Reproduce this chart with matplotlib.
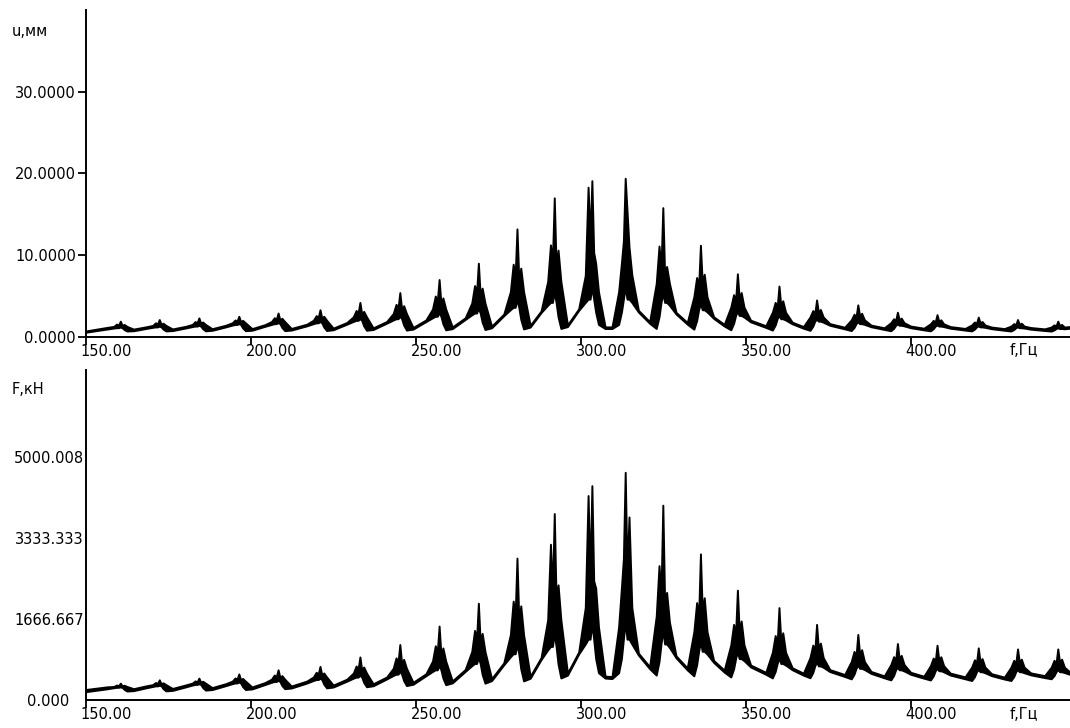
import matplotlib
matplotlib.use("Agg")
from matplotlib import pyplot as plt
from matplotlib.transforms import ScaledTranslation

# Частота, Гц (общая сетка для обоих графиков, точки)
freq = [
    150.0,
    156.5, 158.5, 159.35, 159.95, 160.5, 161.05, 161.65, 162.5, 164.5,
    168.3, 170.3, 171.15, 171.75, 172.3, 172.85, 173.45, 174.3, 176.3,
    180.3, 182.3, 183.15, 183.75, 184.3, 184.85, 185.45, 186.3, 188.3,
    192.4, 194.4, 195.25, 195.85, 196.4, 196.95, 197.55, 198.4, 200.4,
    204.3, 206.3, 207.15, 207.75, 208.3, 208.85, 209.45, 210.3, 212.3,
    217.0, 219.0, 219.85, 220.45, 221.0, 221.55, 222.15, 223.0, 225.0,
    229.1, 231.1, 231.95, 232.55, 233.1, 233.65, 234.25, 235.1, 237.1,
    241.2, 243.2, 244.05, 244.65, 245.2, 245.75, 246.35, 247.2, 249.2,
    253.1, 255.1, 255.95, 256.55, 257.1, 257.65, 258.25, 259.1, 261.1,
    265.0, 267.0, 267.85, 268.45, 269.0, 269.55, 270.15, 271.0, 273.0,
    276.7, 278.7, 279.55, 280.15, 280.7, 281.25, 281.85, 282.7, 284.7,
    288.0, 290.0, 290.85, 291.45, 292.0, 292.55, 293.15, 294.0, 296.0,
    299.4, 301.4, 302.25, 302.85, 303.4, 303.95, 304.55, 305.4, 307.4,
    309.5, 311.5, 312.35, 312.95, 313.5, 314.05, 314.65, 315.5, 317.5,
    320.9, 322.9, 323.75, 324.35, 324.9, 325.45, 326.05, 326.9, 328.9,
    332.3, 334.3, 335.15, 335.75, 336.3, 336.85, 337.45, 338.3, 340.3,
    343.5, 345.5, 346.35, 346.95, 347.5, 348.05, 348.65, 349.5, 351.5,
    356.1, 358.1, 358.95, 359.55, 360.1, 360.65, 361.25, 362.1, 364.1,
    367.5, 369.5, 370.35, 370.95, 371.5, 372.05, 372.65, 373.5, 375.5,
    380.0, 382.0, 382.85, 383.45, 384.0, 384.55, 385.15, 386.0, 388.0,
    392.0, 394.0, 394.85, 395.45, 396.0, 396.55, 397.15, 398.0, 400.0,
    404.0, 406.0, 406.85, 407.45, 408.0, 408.55, 409.15, 410.0, 412.0,
    416.5, 418.5, 419.35, 419.95, 420.5, 421.05, 421.65, 422.5, 424.5,
    428.4, 430.4, 431.25, 431.85, 432.4, 432.95, 433.55, 434.4, 436.4,
    440.6, 442.6, 443.45, 444.05, 444.6, 445.15, 445.75, 446.6, 448.5,
]

# Перемещение u, мм: нижняя и верхняя огибающие
u_low = [
    0.55,
    0.94, 1.06, 1.10, 1.10, 1.18, 1.10, 0.88, 0.70, 0.73,
    1.01, 1.15, 1.20, 1.20, 1.29, 1.20, 0.93, 0.71, 0.75,
    1.07, 1.24, 1.30, 1.30, 1.40, 1.30, 0.98, 0.72, 0.78,
    1.20, 1.42, 1.50, 1.50, 1.60, 1.50, 1.08, 0.74, 0.79,
    1.27, 1.50, 1.60, 1.60, 1.73, 1.60, 1.13, 0.75, 0.81,
    1.33, 1.60, 1.70, 1.70, 1.86, 1.70, 1.18, 0.76, 0.85,
    1.53, 1.87, 2.00, 2.00, 2.22, 2.00, 1.33, 0.79, 0.88,
    1.66, 2.05, 2.20, 2.20, 2.52, 2.20, 1.43, 0.81, 0.93,
    1.85, 2.32, 2.50, 2.50, 2.95, 2.50, 1.58, 0.84, 0.99,
    2.11, 2.68, 2.90, 2.90, 3.51, 2.90, 1.78, 0.88, 1.09,
    2.57, 3.31, 3.60, 3.60, 4.56, 3.60, 2.13, 0.95, 1.18,
    2.96, 3.85, 4.20, 4.20, 5.48, 4.20, 2.43, 1.01, 1.24,
    3.22, 4.20, 4.60, 4.60, 6.05, 4.60, 3.00, 1.50, 1.00,
    1.00, 1.50, 3.00, 4.60, 6.10, 4.60, 4.60, 4.20, 3.02,
    1.64, 1.01, 2.43, 4.20, 5.36, 4.20, 4.20, 3.85, 2.78,
    1.54, 0.92, 1.98, 3.30, 4.09, 3.30, 3.30, 3.04, 2.24,
    1.31, 0.85, 1.63, 2.60, 3.11, 2.60, 2.60, 2.41, 1.82,
    1.14, 0.81, 1.43, 2.20, 2.60, 2.20, 2.20, 2.05, 1.58,
    1.04, 0.78, 1.28, 1.90, 2.16, 1.90, 1.90, 1.78, 1.40,
    0.96, 0.75, 1.13, 1.60, 1.83, 1.60, 1.60, 1.51, 1.22,
    0.89, 0.73, 1.03, 1.40, 1.56, 1.40, 1.40, 1.33, 1.10,
    0.84, 0.72, 0.98, 1.30, 1.44, 1.30, 1.30, 1.24, 1.04,
    0.81, 0.71, 0.93, 1.20, 1.32, 1.20, 1.20, 1.15, 0.98,
    0.79, 0.70, 0.88, 1.10, 1.20, 1.10, 1.10, 1.06, 0.92,
    0.76, 0.69, 0.83, 1.00, 1.09, 1.00, 1.00, 0.97, 1.05,
]
u_high = [
    0.70,
    1.14, 1.26, 1.54, 1.42, 1.90, 1.38, 1.50, 1.26, 0.93,
    1.21, 1.38, 1.70, 1.56, 2.10, 1.52, 1.65, 1.38, 0.95,
    1.27, 1.50, 1.85, 1.70, 2.30, 1.65, 1.80, 1.50, 0.98,
    1.40, 1.70, 2.05, 1.90, 2.50, 1.85, 2.00, 1.70, 0.99,
    1.47, 1.86, 2.32, 2.12, 2.90, 2.06, 2.25, 1.86, 1.01,
    1.53, 2.02, 2.58, 2.34, 3.30, 2.26, 2.50, 2.02, 1.05,
    1.73, 2.44, 3.21, 2.88, 4.20, 2.77, 3.10, 2.44, 1.08,
    1.86, 2.84, 3.96, 3.48, 5.40, 3.32, 3.80, 2.84, 1.13,
    2.05, 3.40, 4.98, 4.30, 7.00, 4.08, 4.75, 3.40, 1.19,
    2.31, 4.12, 6.26, 5.34, 9.00, 5.04, 5.95, 4.12, 1.29,
    2.77, 5.52, 8.88, 7.44, 13.20, 6.96, 8.40, 5.52, 1.38,
    3.16, 6.76, 11.24, 9.32, 17.00, 8.68, 10.60, 6.76, 1.44,
    3.42, 7.50, 18.30, 12.00, 19.10, 10.30, 9.00, 5.50, 1.20,
    1.20, 5.50, 9.00, 11.70, 19.40, 15.40, 11.00, 7.60, 3.22,
    1.84, 6.52, 11.10, 8.26, 15.80, 7.50, 8.60, 6.52, 2.98,
    1.74, 4.88, 7.25, 6.07, 11.20, 6.46, 7.65, 4.88, 2.44,
    1.51, 3.62, 5.15, 4.39, 7.70, 4.64, 5.41, 3.62, 2.02,
    1.34, 3.00, 4.20, 3.60, 6.20, 3.80, 4.40, 3.00, 1.78,
    1.24, 2.42, 3.20, 2.81, 4.50, 2.94, 3.33, 2.42, 1.60,
    1.16, 2.06, 2.75, 2.41, 3.90, 2.52, 2.87, 2.06, 1.42,
    1.09, 1.72, 2.20, 1.96, 3.00, 2.04, 2.28, 1.72, 1.30,
    1.04, 1.58, 2.00, 1.79, 2.70, 1.86, 2.07, 1.58, 1.24,
    1.01, 1.44, 1.80, 1.62, 2.40, 1.68, 1.86, 1.44, 1.18,
    0.99, 1.30, 1.60, 1.45, 2.10, 1.50, 1.65, 1.30, 1.12,
    0.96, 1.18, 1.45, 1.32, 1.90, 1.36, 1.50, 1.18, 1.25,
]

# Сила F, кН: нижняя и верхняя огибающие
F_low = [
    170,
    230, 252, 260, 260, 268, 260, 218, 184, 192,
    250, 278, 290, 290, 302, 290, 232, 187, 197,
    269, 307, 320, 320, 333, 320, 255, 203, 214,
    294, 335, 350, 350, 369, 350, 275, 215, 227,
    317, 364, 380, 380, 404, 380, 298, 232, 246,
    348, 401, 420, 420, 447, 420, 325, 249, 266,
    386, 448, 470, 470, 511, 470, 360, 272, 292,
    432, 504, 530, 530, 591, 530, 400, 296, 323,
    498, 586, 620, 620, 710, 620, 450, 314, 351,
    586, 705, 750, 750, 874, 750, 525, 345, 398,
    723, 888, 950, 950, 1147, 950, 640, 392, 446,
    831, 1028, 1100, 1100, 1373, 1100, 740, 452, 511,
    946, 1150, 1250, 1250, 1565, 1250, 850, 560, 450,
    440, 560, 850, 1250, 1600, 1250, 1250, 1150, 922,
    643, 511, 795, 1150, 1435, 1150, 1150, 1079, 866,
    618, 496, 720, 1000, 1200, 1000, 1000, 944, 772,
    573, 472, 640, 850, 991, 850, 850, 808, 678,
    528, 453, 585, 750, 865, 750, 750, 717, 622,
    510, 457, 565, 700, 785, 700, 700, 673, 584,
    483, 434, 530, 650, 720, 650, 650, 626, 546,
    455, 413, 505, 620, 674, 620, 620, 597, 528,
    448, 411, 495, 600, 652, 600, 600, 579, 512,
    435, 400, 480, 580, 629, 580, 580, 560, 500,
    430, 400, 480, 580, 627, 580, 580, 560, 516,
    460, 436, 500, 580, 627, 580, 580, 564, 520,
]
F_high = [
    215,
    270, 277, 307, 294, 345, 290, 302, 277, 232,
    290, 315, 358, 340, 414, 333, 352, 315, 237,
    309, 346, 391, 372, 449, 365, 384, 346, 254,
    334, 387, 452, 424, 535, 415, 442, 387, 267,
    357, 428, 512, 476, 620, 464, 500, 428, 286,
    388, 474, 569, 528, 690, 515, 555, 474, 306,
    426, 553, 698, 636, 884, 615, 677, 553, 332,
    472, 652, 865, 774, 1139, 743, 835, 652, 363,
    538, 800, 1114, 979, 1518, 934, 1069, 800, 391,
    626, 997, 1430, 1245, 1987, 1183, 1369, 997, 438,
    763, 1343, 2031, 1736, 2915, 1638, 1933, 1343, 486,
    871, 1646, 3200, 2192, 3830, 2056, 2365, 1646, 551,
    986, 1900, 4200, 2500, 4403, 2450, 2300, 1500, 490,
    480, 1500, 2300, 2900, 4678, 2600, 3760, 1900, 962,
    683, 1720, 2760, 2150, 4002, 2000, 2210, 1600, 906,
    658, 1400, 2000, 1700, 3001, 1800, 2100, 1400, 812,
    613, 1131, 1553, 1342, 2256, 1412, 1623, 1131, 718,
    568, 980, 1324, 1152, 1898, 1209, 1381, 980, 662,
    550, 871, 1127, 999, 1553, 1041, 1169, 871, 624,
    523, 789, 998, 894, 1346, 928, 1033, 789, 586,
    495, 728, 890, 809, 1159, 836, 916, 728, 568,
    488, 705, 862, 783, 1124, 810, 888, 705, 552,
    475, 678, 825, 752, 1070, 776, 850, 678, 540,
    470, 674, 815, 744, 1049, 768, 838, 674, 556,
    500, 674, 815, 744, 1049, 768, 838, 674, 560,
]

x_ticks = [150, 200, 250, 300, 350, 400]
x_labels = ['150.00', '200.00', '250.00', '300.00', '350.00', '400.00']
u_ticks = [0, 10, 20, 30]
u_labels = ['0.0000', '10.0000', '20.0000', '30.0000']
F_ticks = [0, 1666.667, 3333.333, 5000.008]
F_labels = ['0.000', '1666.667', '3333.333', '5000.008']

plt.rcParams['font.family'] = 'DejaVu Sans'
plt.rcParams['font.size'] = 10.5

fig = plt.figure(figsize=(10.7, 7.28), dpi=100)
ax_u = fig.add_axes([0.0801, 0.5375, 0.9199, 0.4488])
ax_F = fig.add_axes([0.0801, 0.0385, 0.9199, 0.4533])

shift = ScaledTranslation(-0.05, 0, fig.dpi_scale_trans)


def style_axis(ax, ymax, yticks, ylabels):
    ax.set_xlim(150, 448.3)
    ax.set_ylim(0, ymax)
    for side in ['top', 'right']:
        ax.spines[side].set_visible(False)
    for side in ['left', 'bottom']:
        ax.spines[side].set_linewidth(1.4)
    ax.set_xticks(x_ticks)
    ax.set_xticklabels(x_labels)
    ax.tick_params(axis='x', direction='out', length=6, width=1.3, pad=-1,
                   labelsize=10.5)
    for lab in ax.get_xticklabels():
        lab.set_horizontalalignment('left')
        lab.set_transform(lab.get_transform() + shift)
    ax.set_yticks(yticks)
    ax.set_yticklabels(ylabels)
    ax.text(430, -0.02, 'f,Гц', transform=ax.get_xaxis_transform(),
            ha='left', va='top', fontsize=10.5)


# Верхний график - перемещение
ax_u.fill_between(freq, u_low, u_high, facecolor='black', edgecolor='black',
                  linewidth=1.4)
style_axis(ax_u, 40, u_ticks, u_labels)
ax_u.tick_params(axis='y', direction='out', length=6, width=1.3, pad=1)

# Нижний график - сила
ax_F.fill_between(freq, F_low, F_high, facecolor='black', edgecolor='black',
                  linewidth=1.4)
style_axis(ax_F, 6780, F_ticks, F_labels)
ax_F.tick_params(axis='y', direction='out', length=0, width=1.3, pad=1.5)
zero_tick = ax_F.yaxis.get_major_ticks()[0]
zero_tick.tick1line.set_markersize(5)
zero_tick.set_pad(12)

fig.text(12 / 1070, 1 - 32 / 728, 'u,мм', ha='left', va='center', fontsize=10.5)
fig.text(12 / 1070, 1 - 390 / 728, 'F,кН', ha='left', va='center', fontsize=10.5)

fig.savefig('out.png', dpi=100)
plt.close(fig)
